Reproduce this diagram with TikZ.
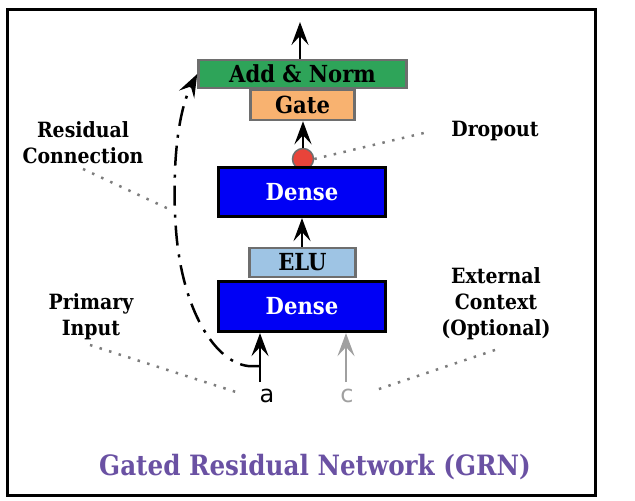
\documentclass[tikz,border=0pt]{standalone}
\usepackage{fontspec}
\setmainfont{DejaVu Serif}[FakeStretch=0.9]
\newfontfamily\sanslbl{DejaVu Sans}
\newfontfamily\titlefont{DejaVu Serif}[FakeStretch=0.88]
\usetikzlibrary{arrows.meta}
\definecolor{grnC}{RGB}{46,164,89}
\definecolor{orgC}{RGB}{248,178,112}
\definecolor{eluC}{RGB}{158,196,228}
\definecolor{blueC}{RGB}{0,0,245}
\definecolor{redC}{RGB}{232,68,58}
\definecolor{bordC}{RGB}{110,110,110}
\definecolor{dotC}{RGB}{125,125,125}
\definecolor{ctxC}{RGB}{160,160,160}
\definecolor{titleC}{RGB}{106,81,163}
\begin{document}
\begin{tikzpicture}[x=1pt,y=-1pt,
  lightbox/.style={draw=bordC, line width=2.5pt, inner sep=0pt, font=\bfseries\fontsize{23.5}{26}\selectfont},
  densebox/.style={draw=black, line width=3.2pt, fill=blueC, text=white, inner sep=0pt,
     minimum width=167pt, minimum height=49pt, font=\bfseries\fontsize{23.5}{26}\selectfont},
  arr/.style={-{Stealth[length=23pt,width=17pt,inset=9pt]}, line width=2.5pt},
  notecon/.style={draw=dotC, line width=2.5pt, dash pattern=on 2.5pt off 7.5pt},
  lbl/.style={font=\bfseries\fontsize{21}{26}\selectfont, align=center, inner sep=0pt},
  inlbl/.style={font=\sanslbl\fontsize{24}{26}\selectfont, inner sep=0pt}
]
\useasboundingbox (0,0) rectangle (635,501);
\draw[line width=3pt] (7,9) rectangle (595,495);

% dropout marker (behind the dense box)
\node[circle, draw=bordC, line width=1.5pt, fill=redC, minimum size=21pt, inner sep=0pt] (drop) at (303,159) {};

% boxes
\node[lightbox, fill=grnC, minimum width=208pt, minimum height=28pt] (addnorm) at (302.5,74) {Add \& Norm};
\node[lightbox, fill=orgC, minimum width=104pt, minimum height=30pt] (gate) at (302.5,105) {Gate};
\node[densebox] (dense2) at (302,192) {Dense};
\node[lightbox, fill=eluC, minimum width=106pt, minimum height=29pt] (elu) at (302.5,262.5) {ELU};
\node[densebox, minimum height=50pt] (dense1) at (302,306.5) {Dense};

% inputs
\node[inlbl] (ina) at (267,396) {a};
\node[inlbl, text=ctxC] (inc) at (347,396) {c};
\coordinate (aTop) at (260,382);
\coordinate (cTop) at (346,382);
\coordinate (outTop) at (300,22);

% arrows
\draw[arr] (addnorm.north -| outTop) -- (outTop);
\draw[arr] (drop.north) -- (gate.south -| drop.north);
\draw[arr] (elu.north -| dense2.south) -- (dense2.south);
\draw[arr] (aTop) -- (dense1.south -| aTop);
\draw[arr, draw=ctxC, color=ctxC] (cTop) -- (dense1.south -| cTop);

% residual connection
\coordinate (resStart) at (260,366);
\coordinate (resEnd) at (addnorm.west);
\draw[line width=2.5pt, dash pattern=on 20pt off 8pt on 3pt off 9pt, -{Stealth[length=23pt,width=17pt,inset=9pt]}]
  (resStart) -- (248,366) .. controls (215,362) and (182,310) .. (176,230)
  .. controls (172,177) and (176,115) .. (resEnd);

% labels
\node[lbl] (lres) at (83,143) {Residual\\Connection};
\node[lbl, anchor=base] (ldrop) at (495,136) {Dropout};
\node[lbl] (lprim) at (91,317) {Primary\\Input};
\node[lbl] (lext) at (496,304) {External\\Context\\(Optional)};
\node[font=\titlefont\bfseries\fontsize{28}{34}\selectfont, text=titleC, anchor=base] (title) at (315,475) {Gated Residual Network (GRN)};

% dotted pointers
\coordinate (pRes1) at (83,169);
\coordinate (pRes2) at (171,210);
\coordinate (pDrop) at (428,132);
\coordinate (pPrim1) at (90,345);
\coordinate (pPrim2) at (236,392);
\coordinate (pExt1) at (495,350);
\coordinate (pExt2) at (373,391);
\draw[notecon] (pRes1) -- (pRes2);
\draw[notecon] (drop.east) -- (pDrop);
\draw[notecon] (pPrim1) -- (pPrim2);
\draw[notecon] (pExt1) -- (pExt2);
\end{tikzpicture}
\end{document}
